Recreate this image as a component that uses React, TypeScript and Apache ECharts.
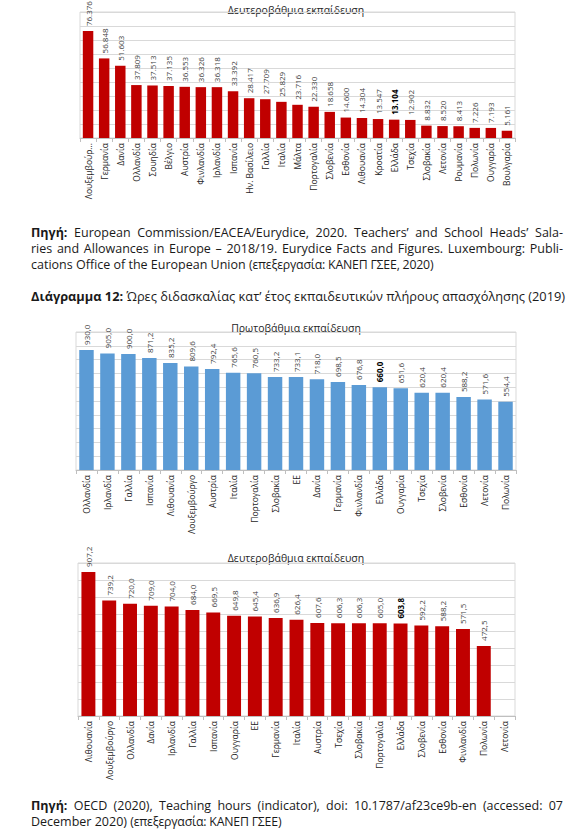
import React, { useEffect, useRef } from "react";
import * as echarts from "echarts";

// Chart 1: secondary education salaries (thousand €)
const salaryCategories = [
  "Λουξεμβούργο", "Γερμανία", "Δανία", "Ολλανδία", "Σουηδία", "Βέλγιο", "Αυστρία",
  "Φινλανδία", "Ιρλανδία", "Ισπανία", "Ην. Βασίλειο", "Γαλλία", "Ιταλία", "Μάλτα",
  "Πορτογαλία", "Σλοβενία", "Εσθονία", "Λιθουανία", "Κροατία", "Ελλάδα", "Τσεχία",
  "Σλοβακία", "Λετονία", "Ρουμανία", "Πολωνία", "Ουγγαρία", "Βουλγαρία",
];
const salaryValues = [
  76.376, 56.848, 51.603, 37.809, 37.513, 37.135, 36.553, 36.326, 36.318, 33.392,
  28.417, 27.709, 25.829, 23.716, 22.33, 18.658, 14.6, 14.304, 13.547, 13.104,
  12.902, 8.832, 8.52, 8.413, 7.226, 7.193, 5.161,
];

// Chart 2: teaching hours, primary education (2019)
const primaryCategories = [
  "Ολλανδία", "Ιρλανδία", "Γαλλία", "Ισπανία", "Λιθουανία", "Λουξεμβούργο", "Αυστρία",
  "Ιταλία", "Πορτογαλία", "Σλοβακία", "ΕΕ", "Δανία", "Γερμανία", "Φινλανδία", "Ελλάδα",
  "Ουγγαρία", "Τσεχία", "Σλοβενία", "Εσθονία", "Λετονία", "Πολωνία",
];
const primaryHours = [
  930.0, 905.0, 900.0, 871.2, 835.2, 809.6, 792.4, 765.6, 760.5, 733.2, 733.1, 718.0,
  698.5, 676.8, 660.0, 651.6, 620.4, 620.4, 588.2, 571.6, 554.4,
];

// Chart 3: teaching hours, secondary education (2019)
const secondaryCategories = [
  "Λιθουανία", "Λουξεμβούργο", "Ολλανδία", "Δανία", "Ιρλανδία", "Γαλλία", "Ισπανία",
  "Ουγγαρία", "ΕΕ", "Γερμανία", "Ιταλία", "Αυστρία", "Τσεχία", "Σλοβακία", "Πορτογαλία",
  "Ελλάδα", "Σλοβενία", "Εσθονία", "Φινλανδία", "Πολωνία", "Λετονία",
];
const secondaryHours: (number | null)[] = [
  907.2, 739.2, 720.0, 709.0, 704.0, 684.0, 669.5, 649.8, 645.4, 636.9, 626.4, 607.6,
  606.3, 606.3, 605.0, 603.8, 592.2, 588.2, 571.5, 472.5, null,
];

const chartTitles = ["Δευτεροβάθμια εκπαίδευση", "Πρωτοβάθμια εκπαίδευση", "Δευτεροβάθμια εκπαίδευση"];
const highlighted = "Ελλάδα";

const RED = "#c00000";
const BLUE = "#5b9bd5";
const GRID_COLOR = "#d9d9d9";
const AXIS_COLOR = "#bfbfbf";
const LABEL_FONT = "'Open Sans', sans-serif";

const fmtDot3 = (v: number) => v.toFixed(3);
const fmtComma1 = (v: number) => v.toFixed(1).replace(".", ",");
// the top chart's label slot cuts the longest name short, as in the original
const shortenLong = (s: string) => (s === "Λουξεμβούργο" ? s.slice(0, 10) + "..." : s);

function seriesData(cats: string[], vals: (number | null)[]) {
  return vals.map((v, i) =>
    v === null
      ? "-"
      : cats[i] === highlighted
      ? { value: v, label: { fontWeight: "bold", color: "#000" } }
      : v
  );
}

function App() {
  const ref = useRef<HTMLDivElement>(null);

  useEffect(() => {
    if (!ref.current) return;
    const chart = echarts.init(ref.current, null, { renderer: "svg" });

    const grids = [
      { left: 80, top: 12, width: 435, height: 126 },
      { left: 76, top: 332, width: 440, height: 138 },
      { left: 78, top: 563, width: 437, height: 153 },
    ];
    const cats = [salaryCategories, primaryCategories, secondaryCategories];
    const vals = [salaryValues, primaryHours, secondaryHours];
    const colors = [RED, BLUE, RED];
    const fmts = [fmtDot3, fmtComma1, fmtComma1];
    const yRanges = [
      { min: 0, max: 90, interval: 10 },
      { min: 60, max: 1060, interval: 100 },
      { min: 60, max: 960, interval: 100 },
    ];
    const gaps = ["35%", "31%", "33%"];
    const titleY = [10, 328, 558];

    const option: any = {
      animation: false,
      grid: grids.map((g) => ({
        ...g,
        show: true,
        borderColor: GRID_COLOR,
        borderWidth: 1,
        backgroundColor: "transparent",
      })),
      xAxis: cats.map((c, i) => ({
        type: "category",
        gridIndex: i,
        data: c,
        axisLine: { show: true, lineStyle: { color: AXIS_COLOR, width: 1 } },
        axisTick: { show: true, length: 4, lineStyle: { color: AXIS_COLOR } },
        axisLabel: {
          interval: 0,
          rotate: 90,
          margin: 5,
          fontSize: 8.5,
          color: "#262626",
          fontFamily: LABEL_FONT,
          ...(i === 0 ? { formatter: shortenLong } : {}),
        },
      })),
      yAxis: yRanges.map((r, i) => ({
        type: "value",
        gridIndex: i,
        ...r,
        axisLabel: { show: false },
        axisLine: { show: false },
        axisTick: { show: false },
        splitLine: { show: true, lineStyle: { color: GRID_COLOR, width: 1 } },
      })),
      series: vals.map((v, i) => ({
        type: "bar",
        xAxisIndex: i,
        yAxisIndex: i,
        data: seriesData(cats[i], v),
        barCategoryGap: gaps[i],
        itemStyle: { color: colors[i] },
        label: {
          show: true,
          position: "top",
          rotate: 90,
          align: "left",
          verticalAlign: "middle",
          distance: 5,
          fontSize: 8,
          color: "#404040",
          fontFamily: LABEL_FONT,
          formatter: (p: any) => fmts[i](p.value),
        },
      })),
      graphic: chartTitles.map((t, i) => ({
        type: "text",
        x: 296,
        y: titleY[i],
        style: {
          text: t,
          textAlign: "center",
          textVerticalAlign: "middle",
          fontSize: 10.5,
          fontFamily: LABEL_FONT,
          fill: "#262626",
        },
      })),
    };

    chart.setOption(option);
    return () => chart.dispose();
  }, []);

  const textBase: React.CSSProperties = {
    position: "absolute",
    left: 31,
    width: 532,
    fontFamily: "'Open Sans', sans-serif",
    fontSize: 12.5,
    lineHeight: "16px",
    color: "#1a1a1a",
    margin: 0,
    whiteSpace: "nowrap",
  };
  const full: React.CSSProperties = { textAlign: "justify", textAlignLast: "justify" as any };
  const last: React.CSSProperties = { textAlign: "left" };
  const gr: React.CSSProperties = { fontSize: 12.3, letterSpacing: "-0.2px" };

  return (
    <div style={{ position: "absolute", left: 0, top: 0, width: 577, height: 831, overflow: "hidden", background: "#fff" }}>
      <div ref={ref} style={{ position: "absolute", left: 0, top: 0, width: 577, height: 831 }} />
      <div style={{ ...textBase, ...full, top: 225 }}>
        <b>Πηγή:</b> European Commission/EACEA/Eurydice, 2020. Teachers’ and School Heads’ Sala-
      </div>
      <div style={{ ...textBase, ...full, top: 241 }}>
        ries and Allowances in Europe – 2018/19. Eurydice Facts and Figures. Luxembourg: Publi-
      </div>
      <div style={{ ...textBase, ...last, top: 257 }}>
        cations Office of the European Union <span style={gr}>(επεξεργασία: ΚΑΝΕΠ ΓΣΕΕ, 2020)</span>
      </div>
      <div style={{ ...textBase, ...last, top: 288, fontSize: 12.8 }}>
        <b>Διάγραμμα 12:</b> Ώρες διδασκαλίας κατ’ έτος εκπαιδευτικών πλήρους απασχόλησης (2019)
      </div>
      <div style={{ ...textBase, ...full, top: 798 }}>
        <b>Πηγή:</b> OECD (2020), Teaching hours (indicator), doi: 10.1787/af23ce9b-en (accessed: 07
      </div>
      <div style={{ ...textBase, ...last, top: 814 }}>
        December 2020) <span style={gr}>(επεξεργασία: ΚΑΝΕΠ ΓΣΕΕ)</span>
      </div>
    </div>
  );
}

export default App;
